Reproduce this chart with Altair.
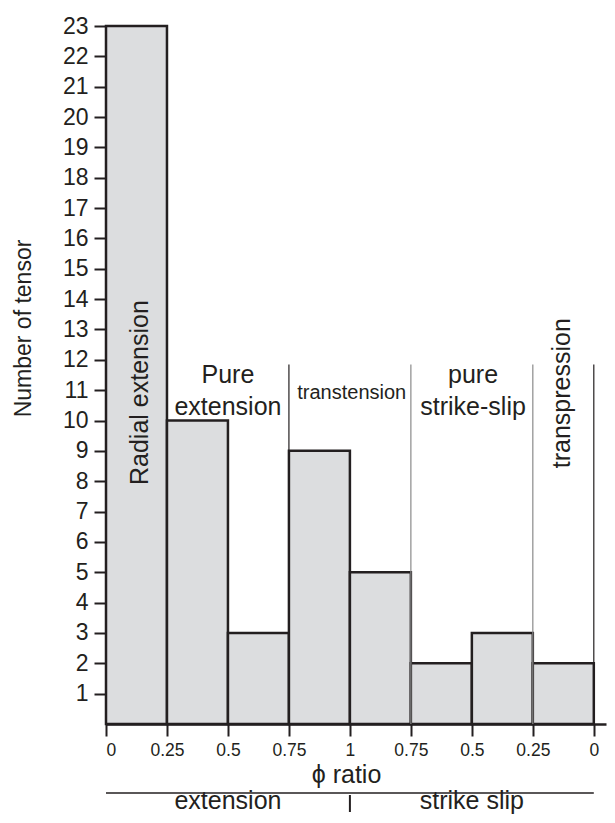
import json
import altair as alt
import pandas as pd

# ---- data ----
bin_start = [0, 1, 2, 3, 4, 5, 6, 7]
bin_end = [1, 2, 3, 4, 5, 6, 7, 8]
counts = [23, 10, 3, 9, 5, 2, 3, 2]
tick_labels = ["0", "0.25", "0.5", "0.75", "1", "0.75", "0.5", "0.25", "0"]
y_ticks = list(range(1, 24))

divider_x = [3, 5, 7, 8]
divider_top = [11.85, 11.85, 11.85, 11.85]
divider_color = ["#231f20", "#8a8a8a", "#8a8a8a", "#231f20"]

regime_labels = ["Pure", "extension", "transtension", "pure", "strike-slip"]
regime_x = [2.0, 2.0, 4.03, 6.02, 6.02]
regime_y = [11.24, 10.18, 10.71, 11.24, 10.18]
regime_size = [25, 25, 20, 25, 25]

rot_labels = ["Radial extension", "transpression"]
rot_x = [0.69, 7.61]
rot_y = [10.92, 10.9]

group_labels = ["extension", "strike slip"]
group_x = [2, 6]
bracket_start = [0]
bracket_end = [8]
bracket_split = [4]

INK = "#231f20"
FONT = "Liberation Sans"

bars_df = pd.DataFrame({"x0": bin_start, "x1": bin_end, "n": counts})
div_df = pd.DataFrame({"dx": divider_x, "top": divider_top, "c": divider_color,
                       "base": [0] * len(divider_x)})
reg_df = pd.DataFrame({"t": regime_labels, "tx": regime_x, "ty": regime_y, "s": regime_size})
rot_df = pd.DataFrame({"t": rot_labels, "tx": rot_x, "ty": rot_y})
grp_df = pd.DataFrame({"t": group_labels, "gx": group_x})
br_df = pd.DataFrame({"b0": bracket_start, "b1": bracket_end})
split_df = pd.DataFrame({"sx": bracket_split})

xscale = alt.Scale(domain=[0, 8.2], nice=False, zero=False)
yscale = alt.Scale(domain=[0, 23], nice=False)

label_expr = json.dumps(tick_labels) + "[datum.value]"

x_axis = alt.Axis(values=list(range(9)), tickCount=20, labelExpr=label_expr, title="ϕ ratio",
                  labelFontSize=17.5, labelPadding=5, tickSize=12, labelOverlap=False,
                  titleFontSize=25, titleFontWeight="normal", titleX=240, titleY=58,
                  titleBaseline="alphabetic", titleAlign="center")
y_axis = alt.Axis(values=y_ticks, tickCount=40, format="d", title="Number of tensor",
                  labelFontSize=23, labelPadding=6, tickSize=12, labelOverlap=False,
                  titleFontSize=23, titleFontWeight="normal", titleAngle=270,
                  titleX=-76, titleY=302, titleBaseline="alphabetic", titleAlign="center")

bars = alt.Chart(bars_df).mark_rect(fill="#dcdddf", stroke=INK, strokeWidth=2.5).encode(
    x=alt.X("x0:Q", scale=xscale, axis=x_axis),
    x2="x1:Q",
    y=alt.Y("n:Q", scale=yscale, axis=y_axis),
    y2=alt.Y2(datum=0),
)

dividers = alt.Chart(div_df).mark_rule(strokeWidth=1.2).encode(
    x=alt.X("dx:Q", scale=xscale),
    y=alt.Y("base:Q", scale=yscale),
    y2="top:Q",
    color=alt.Color("c:N", scale=None),
)

regimes = alt.Chart(reg_df).mark_text(font=FONT, color=INK, baseline="alphabetic",
                                      align="center").encode(
    x=alt.X("tx:Q", scale=xscale),
    y=alt.Y("ty:Q", scale=yscale),
    text="t:N",
    size=alt.Size("s:Q", scale=None),
)

rotated = alt.Chart(rot_df).mark_text(font=FONT, color=INK, baseline="alphabetic",
                                      align="center", angle=270, fontSize=25).encode(
    x=alt.X("tx:Q", scale=xscale),
    y=alt.Y("ty:Q", scale=yscale),
    text="t:N",
)

bracket = alt.Chart(br_df).mark_rule(color=INK, strokeWidth=1.6).encode(
    x=alt.X("b0:Q", scale=xscale),
    x2="b1:Q",
    y=alt.value(767),
)

split = alt.Chart(split_df).mark_rule(color=INK, strokeWidth=2).encode(
    x=alt.X("sx:Q", scale=xscale),
    y=alt.value(769),
    y2=alt.value(786),
)

groups = alt.Chart(grp_df).mark_text(font=FONT, color=INK, baseline="alphabetic",
                                     align="center", fontSize=25).encode(
    x=alt.X("gx:Q", scale=xscale),
    y=alt.value(783),
    text="t:N",
)

chart = alt.layer(bars, dividers, regimes, rotated, bracket, split, groups).properties(
    width=500, height=698,
    padding={"left": 98, "top": 18, "right": 1, "bottom": 91},
    autosize=alt.AutoSizeParams(type="none"),
).configure_view(stroke=None).configure_axis(
    grid=False, domainColor=INK, domainWidth=2.5, tickColor=INK, tickWidth=2,
    labelColor=INK, titleColor=INK, labelFont=FONT, titleFont=FONT,
)

chart.save("out.html", embed_options={"renderer": "svg", "actions": False})
